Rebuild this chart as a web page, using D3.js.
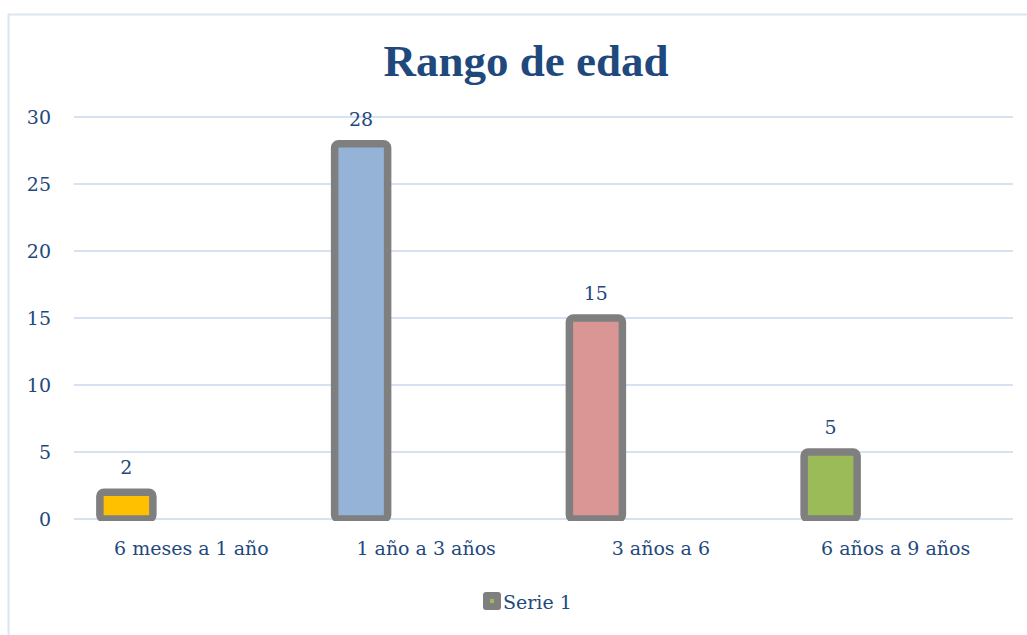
<!DOCTYPE html>
<meta charset="utf-8">
<head>
  <title>Rango de edad</title>
</head>

<style>
body {
  margin: 0;
  background: #fff;
}
svg text {
  font-family: "DejaVu Serif", "Liberation Serif", serif;
  fill: #1f497d;
}
</style>

<body>
  <div id="chart"></div>

  <script src="https://cdnjs.cloudflare.com/ajax/libs/d3/7.8.5/d3.min.js"></script>

  <script>
// Data
var categories = ['6 meses a 1 año', '1 año a 3 años', '3 años a 6', '6 años a 9 años'];
var values = [2, 28, 15, 5];
var barColors = ['#ffc000', '#95b3d7', '#d99694', '#9bbb59'];
var yTicks = [0, 5, 10, 15, 20, 25, 30];
var seriesName = 'Serie 1';

var width = 1027, height = 635;
var margin = {left: 74, right: 14, top: 117, bottom: 116};

var svg = d3.select('#chart').append('svg')
  .attr('width', width)
  .attr('height', height);

// outer frame (runs past the right and bottom edges)
svg.append('rect')
  .attr('x', 8.5).attr('y', 14.5)
  .attr('width', 1040).attr('height', 660)
  .attr('fill', 'none')
  .attr('stroke', '#dce6f2')
  .attr('stroke-width', 2);

var x = d3.scaleBand()
  .domain(categories)
  .range([margin.left, width - margin.right]);

var y = d3.scaleLinear()
  .domain([0, 30])
  .range([height - margin.bottom, margin.top]);

// Title
svg.append('text')
  .attr('x', 526).attr('y', 76)
  .attr('text-anchor', 'middle')
  .style('font-family', '"Liberation Serif", serif')
  .style('font-size', '45px')
  .style('font-weight', 'bold')
  .text('Rango de edad');

// Gridlines
svg.append('g')
  .selectAll('line')
  .data(yTicks)
  .join('line')
  .attr('x1', margin.left).attr('x2', width - margin.right)
  .attr('y1', function(d) { return y(d); })
  .attr('y2', function(d) { return y(d); })
  .attr('stroke', '#d6e2f2')
  .attr('stroke-width', 2);

// Y axis labels
var yAxis = d3.axisLeft(y).tickValues(yTicks).tickSize(0).tickPadding(0);
var gy = svg.append('g')
  .attr('transform', 'translate(51,0)')
  .call(yAxis);
gy.select('.domain').remove();
gy.selectAll('text')
  .attr('dy', '0.35em')
  .style('font-size', '19px');

// X axis labels
var xAxis = d3.axisBottom(x).tickSize(0).tickPadding(0);
var gx = svg.append('g')
  .attr('transform', 'translate(0,' + (y(0) + 22) + ')')
  .call(xAxis);
gx.select('.domain').remove();
gx.selectAll('text')
  .attr('dy', '0.71em')
  .style('font-size', '19px');

// Bars
var barW = 53, barOffset = -65;
svg.append('clipPath').attr('id', 'plotclip')
  .append('rect')
  .attr('x', 0).attr('y', 0)
  .attr('width', width).attr('height', y(0) + 2);

function barX(d, i) {
  return x(categories[i]) + x.bandwidth() / 2 + barOffset - barW / 2;
}

svg.append('g')
  .attr('clip-path', 'url(#plotclip)')
  .selectAll('rect')
  .data(values)
  .join('rect')
  .attr('x', barX)
  .attr('y', function(d) { return y(d); })
  .attr('width', barW)
  .attr('height', function(d) { return y(0) - y(d); })
  .attr('rx', 4)
  .attr('fill', function(d, i) { return barColors[i]; })
  .attr('stroke', '#7f7f7f')
  .attr('stroke-width', 7.5);

// Value labels
svg.append('g')
  .selectAll('text')
  .data(values)
  .join('text')
  .attr('x', function(d, i) { return barX(d, i) + barW / 2; })
  .attr('y', function(d) { return y(d) - 18; })
  .attr('text-anchor', 'middle')
  .style('font-size', '19px')
  .text(function(d) { return d; });

// Legend
var legend = svg.append('g').attr('transform', 'translate(483,592)');
legend.append('rect')
  .attr('width', 18).attr('height', 18)
  .attr('rx', 3)
  .attr('fill', '#7f7f7f');
legend.append('rect')
  .attr('x', 7).attr('y', 7)
  .attr('width', 4).attr('height', 4)
  .attr('fill', '#9bbb59');
legend.append('text')
  .attr('x', 20).attr('y', 17)
  .style('font-size', '19px')
  .text(seriesName);
  </script>
</body>
</html>
